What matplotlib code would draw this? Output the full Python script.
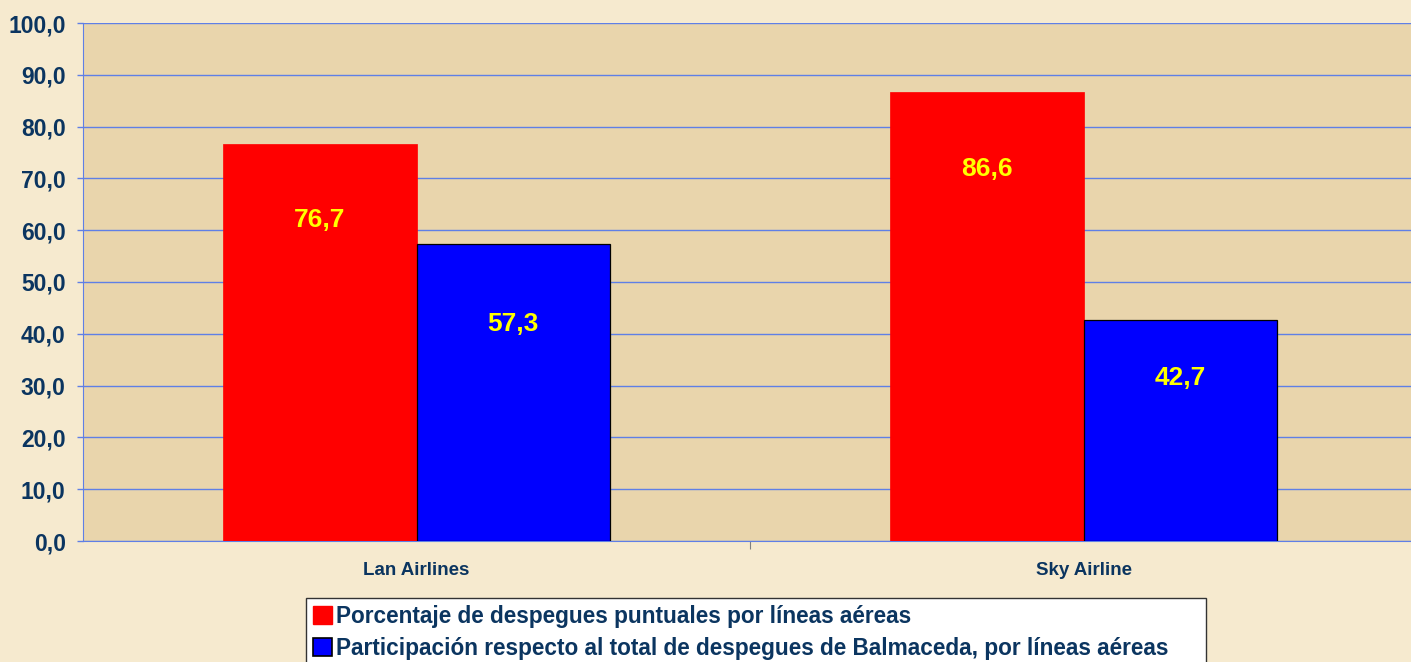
import matplotlib
matplotlib.use("Agg")
import matplotlib.pyplot as plt
import numpy as np
from matplotlib.patches import Patch

# data
airlines = ["Lan Airlines", "Sky Airline"]
puntuales = [76.7, 86.6]
participacion = [57.3, 42.7]
series_names = [
    "Porcentaje de despegues puntuales por líneas aéreas",
    "Participación respecto al total de despegues de Balmaceda, por líneas aéreas",
]
y_ticks = [0, 10, 20, 30, 40, 50, 60, 70, 80, 90, 100]

NAVY = "#0B3560"
GRID = "#5F7FE6"

plt.rcParams["font.family"] = ["Liberation Sans", "DejaVu Sans"]
plt.rcParams["font.weight"] = "bold"

fig = plt.figure(figsize=(14.11, 6.62), dpi=100)
fig.patch.set_facecolor("#F6EACF")
ax = fig.add_axes([83 / 1411, 1 - 541 / 662, 1334 / 1411, 518 / 662])
ax.set_facecolor("#E9D5AC")

x = np.arange(len(airlines))
w = 0.29
bars1 = ax.bar(x - w / 2, puntuales, w, color="#FF0000", edgecolor="#FF0000", linewidth=0.5, zorder=3)
bars2 = ax.bar(x + w / 2, participacion, w, color="#0000FF", edgecolor="black", linewidth=0.9, zorder=3)

# value labels sit a little below the top of each bar
drop1 = [14.8, 14.8]
drop2 = [15.5, 11.2]
for i in range(len(airlines)):
    ax.text(x[i] - w / 2, puntuales[i] - drop1[i], f"{puntuales[i]:.1f}".replace(".", ","),
            ha="center", va="center", color="#FFFF00", fontsize=19, fontweight="bold", zorder=4)
    ax.text(x[i] + w / 2, participacion[i] - drop2[i], f"{participacion[i]:.1f}".replace(".", ","),
            ha="center", va="center", color="#FFFF00", fontsize=19, fontweight="bold", zorder=4)

ax.set_xlim(-0.5, len(airlines) - 0.5)
ax.set_ylim(0, 100)
ax.set_yticks(y_ticks)
ax.set_yticklabels([f"{v:.1f}".replace(".", ",") for v in y_ticks], fontsize=16.5, color=NAVY, fontweight="bold")
ax.yaxis.grid(True, color=GRID, linewidth=1, zorder=0)
ax.tick_params(axis="y", length=4.5, width=1, color=GRID, pad=8)

# category labels, ticks between categories
ax.set_xticks([0.5])
ax.set_xticklabels([""])
ax.tick_params(axis="x", length=6, width=0.8, color="#808080", direction="out")
for i, name in enumerate(airlines):
    ax.text(x[i], -5.6, name, ha="center", va="center", fontsize=13.5, color=NAVY,
            fontweight="bold", transform=ax.transData)

ax.spines["top"].set_visible(False)
ax.spines["right"].set_visible(False)
ax.spines["left"].set_color(GRID)
ax.spines["bottom"].set_color(GRID)

handles = [
    Patch(facecolor="#FF0000", edgecolor="#FF0000"),
    Patch(facecolor="#0000FF", edgecolor="black", linewidth=1.2),
]
leg = fig.legend(handles, series_names, loc="upper left",
                 bbox_to_anchor=(306 / 1411, -0.2, 900 / 1411, 0.2 + 1 - 598 / 662),
                 mode="expand", fontsize=16.3, frameon=True, fancybox=False,
                 handlelength=0.84, handleheight=0.84, handletextpad=0.18,
                 borderpad=0.3, labelspacing=0.4, borderaxespad=0)
leg.get_frame().set_edgecolor("#333333")
leg.get_frame().set_facecolor("white")
leg.get_frame().set_alpha(1)
leg.get_frame().set_linewidth(1)
for t in leg.get_texts():
    t.set_color(NAVY)
    t.set_fontweight("bold")

fig.savefig("out.png", dpi=100, facecolor=fig.get_facecolor())
